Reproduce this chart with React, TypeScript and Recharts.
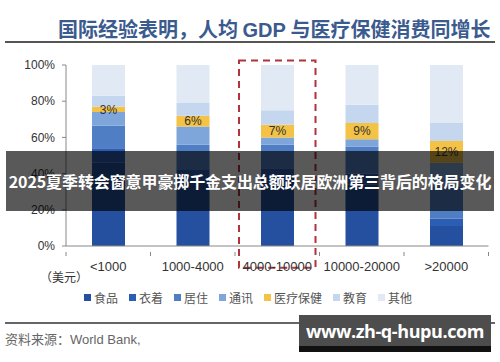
import React from "react";
import {
  BarChart,
  Bar,
  XAxis,
  YAxis,
  Legend,
  LabelList,
  ReferenceArea,
} from "recharts";

// income bands (USD per capita)
const categories = ["<1000", "1000-4000", "4000-10000", "10000-20000", ">20000"];

// consumption shares, %, bottom to top of each stack
const food = [46, 35, 36, 34, 11];
const clothing = [8, 7, 7, 6, 4];
const housing = [12.5, 14, 13, 15, 18];
const telecom = [7.5, 10, 4, 4, 13];
const health = [3, 6, 7, 9, 12];
const education = [6, 7, 8, 10, 10];
const other = [17, 21, 25, 22, 32];

const yTicks = [0, 20, 40, 60, 80, 100];
const highlight = "4000-10000";

const SERIES = [
  { key: "food", name: "食品", color: "#24509f", values: food },
  { key: "clothing", name: "衣着", color: "#2c5db5", values: clothing },
  { key: "housing", name: "居住", color: "#4f7ec4", values: housing },
  { key: "telecom", name: "通讯", color: "#7ea6da", values: telecom },
  { key: "health", name: "医疗保健", color: "#f4c244", values: health },
  { key: "education", name: "教育", color: "#c5d7ee", values: education },
  { key: "other", name: "其他", color: "#e1e9f5", values: other },
];

const data = categories.map((c, i) => {
  const row: Record<string, string | number> = { band: c };
  SERIES.forEach((s) => (row[s.key] = s.values[i]));
  return row;
});

const W = 500;
const H = 362;
const PLOT_LEFT = 66;
const PLOT_RIGHT = 11.5;
const BAND = (W - PLOT_LEFT - PLOT_RIGHT) / categories.length;

const SANS = "'Liberation Sans', Arial, sans-serif";
const CJK = "'Noto Sans CJK SC', sans-serif";

function XTick(props: any) {
  const { x, y, payload, index } = props;
  return (
    <g>
      <line x1={x + BAND / 2} y1={y - 6} x2={x + BAND / 2} y2={y - 2} stroke="#888" />
      {index === 0 && (
        <line x1={x - BAND / 2} y1={y - 6} x2={x - BAND / 2} y2={y - 2} stroke="#888" />
      )}
      <text x={x} y={y} dy={13} textAnchor="middle" fontSize={13} fill="#333" fontFamily={SANS}>
        {payload.value}
      </text>
    </g>
  );
}

function DashedBox(props: any) {
  const { x, y, width, height } = props;
  return (
    <rect
      x={x + 4}
      y={y}
      width={width - 8}
      height={height}
      fill="none"
      stroke="#b2343a"
      strokeWidth={2}
      strokeDasharray="7 5"
    />
  );
}

function LegendRow() {
  return (
    <div style={{ display: "flex", gap: 11, alignItems: "center", whiteSpace: "nowrap" }}>
      {SERIES.map((s) => (
        <span key={s.key} style={{ display: "inline-flex", alignItems: "center", gap: 3 }}>
          <span style={{ width: 7, height: 7, background: s.color, display: "inline-block" }} />
          <span style={{ fontFamily: CJK, fontSize: 12, color: "#555" }}>{s.name}</span>
        </span>
      ))}
    </div>
  );
}

export default function App() {
  return (
    <div
      style={{
        position: "fixed",
        left: 0,
        top: 0,
        width: W,
        height: H,
        background: "#fff",
        overflow: "hidden",
      }}
    >
      <div
        style={{
          position: "absolute",
          left: 58,
          top: 14,
          fontFamily: CJK,
          fontWeight: 700,
          fontSize: 20,
          color: "#3b5b8f",
          whiteSpace: "nowrap",
        }}
      >
        国际经验表明，人均 <span style={{ fontFamily: SANS }}>GDP</span> 与医疗保健消费同增长
      </div>
      <div style={{ position: "absolute", left: 5, top: 41, width: 490, height: 2, background: "#555" }} />

      <BarChart
        width={W}
        height={H}
        data={data}
        margin={{ top: 65, right: PLOT_RIGHT, left: 6, bottom: 69 }}
        barSize={33}
      >
        <XAxis
          dataKey="band"
          axisLine={{ stroke: "#888" }}
          tickLine={false}
          tick={<XTick />}
          interval={0}
          height={30}
          tickMargin={6}
        />
        <YAxis
          width={60}
          domain={[0, 100]}
          ticks={yTicks}
          tickFormatter={(v) => `${v}%`}
          axisLine={{ stroke: "#888" }}
          tickLine={{ stroke: "#888" }}
          tickSize={4}
          tickMargin={7}
          tick={{ fontSize: 12, fill: "#333", fontFamily: SANS }}
        />
        {SERIES.map((s) => (
          <Bar key={s.key} dataKey={s.key} name={s.name} stackId="a" fill={s.color} isAnimationActive={false}>
            {s.key === "health" && (
              <LabelList
                dataKey="health"
                position="center"
                formatter={(v: any) => `${v}%`}
                fontSize={12}
                fill="#333"
                fontFamily={SANS}
              />
            )}
          </Bar>
        ))}
        <ReferenceArea
          x1={highlight}
          x2={highlight}
          y1={-12}
          y2={102.5}
          ifOverflow="visible"
          shape={<DashedBox />}
        />
        <Legend
          content={<LegendRow />}
          wrapperStyle={{ position: "absolute", left: 84, top: 289, width: 350 }}
        />
      </BarChart>

      <div
        style={{
          position: "absolute",
          left: 40,
          top: 268,
          fontFamily: CJK,
          fontSize: 12,
          color: "#333",
        }}
      >
        （美元）
      </div>

      <div style={{ position: "absolute", left: 5, top: 322, width: 490, height: 2, background: "#666" }} />
      <div
        style={{
          position: "absolute",
          left: 5,
          top: 329,
          fontFamily: CJK,
          fontSize: 13,
          color: "#666",
        }}
      >
        资料来源：<span style={{ fontFamily: SANS }}>World Bank,</span>
      </div>

      <div
        style={{
          position: "absolute",
          left: 6,
          top: 151,
          width: 488,
          height: 60,
          background: "rgba(0,0,0,0.65)",
          display: "flex",
          alignItems: "center",
          justifyContent: "center",
          fontFamily: CJK,
          fontWeight: 700,
          fontSize: 16,
          letterSpacing: -0.1,
          color: "#fff",
          whiteSpace: "nowrap",
        }}
      >
        2025夏季转会窗意甲豪掷千金支出总额跃居欧洲第三背后的格局变化
      </div>

      <div
        style={{
          position: "absolute",
          left: 299,
          top: 315,
          width: 192,
          height: 31,
          background: "#4d4d4d",
          borderBottom: "6px solid #111",
          display: "flex",
          alignItems: "center",
          justifyContent: "center",
          fontFamily: "'Open Sans', sans-serif",
          fontWeight: 700,
          fontSize: 18,
          letterSpacing: -0.4,
          color: "#fff",
          whiteSpace: "nowrap",
        }}
      >
        www.zh-q-hupu.com
      </div>
    </div>
  );
}
